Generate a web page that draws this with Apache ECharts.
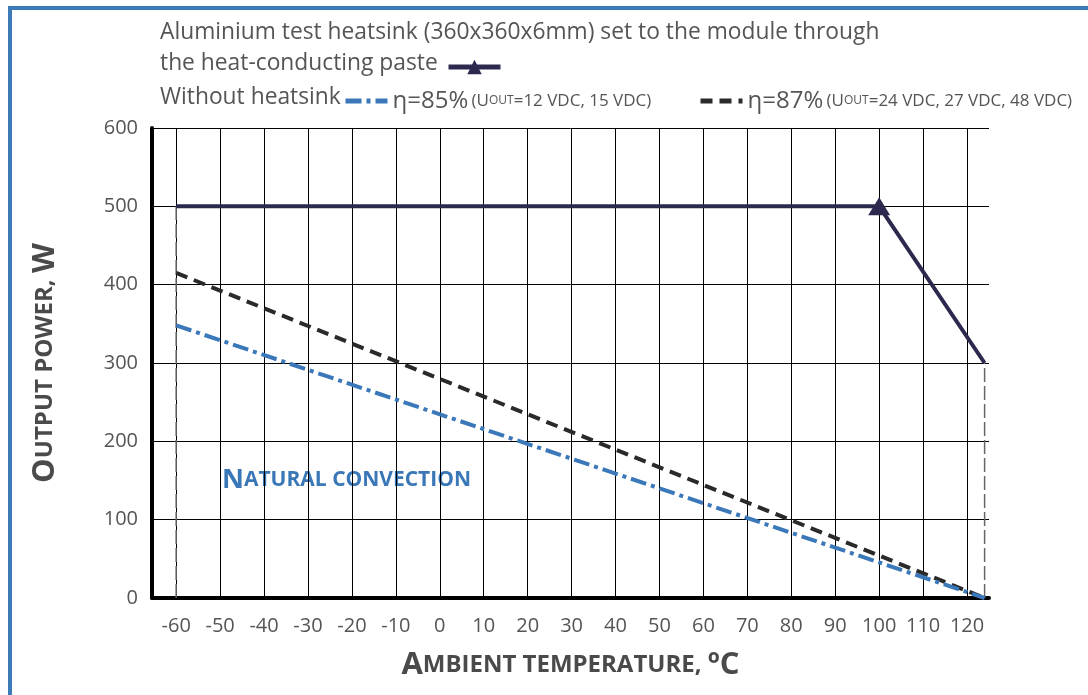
<!DOCTYPE html>
<html>
<head>
<meta charset="utf-8">
<script src="https://cdn.jsdelivr.net/npm/echarts@6/dist/echarts.min.js"></script>
<style>
html, body { margin: 0; padding: 0; background: #fff; }
#chart { width: 1088px; height: 695px; }
</style>
</head>
<body>
<div id="chart"></div>
<script>
// x ticks (ambient temperature, C)
var xTicks = [-60, -50, -40, -30, -20, -10, 0, 10, 20, 30, 40, 50, 60, 70, 80, 90, 100, 110, 120];
// heatsink curve
var heatTemp = [-60, 100, 124];
var heatPower = [500, 500, 300];
// without heatsink, eta = 85%
var eta85Temp = [-60, 124];
var eta85Power = [348, 0];
// without heatsink, eta = 87%
var eta87Temp = [-60, 124];
var eta87Power = [415, 0];
// thin dashed drop lines
var dropLeft = [[-60, 0], [-60, 500]];
var dropRight = [[124, 0], [124, 300]];

var gray = '#555';
var font = 'Open Sans';

var myChart = echarts.init(document.getElementById('chart'));

function pairs(xs, ys) {
    var out = [];
    for (var i = 0; i < xs.length; i++) {
        out.push([xs[i], ys[i]]);
    }
    return out;
}

var heatData = pairs(heatTemp, heatPower).map(function (p) {
    // triangle only where the derating starts
    return p[0] == 100 ? { value: p } : { value: p, symbol: 'none' };
});

var capsName = {
    b: { fontSize: 31, fontWeight: 'bold', color: '#4a4a4a', fontFamily: font },
    s: { fontSize: 24, fontWeight: 'bold', color: '#4a4a4a', fontFamily: font }
};
var legendRich = {
    a: { fontSize: 24, color: gray, fontFamily: font },
    s: { fontSize: 17, color: gray, fontFamily: font },
    x: { fontSize: 12, color: gray, fontFamily: font }
};

var option = {
    animation: false,
    grid: { left: 152, right: 99, top: 128, bottom: 97 },
    graphic: [
        {
            type: 'polyline',
            shape: { points: [[10, 695], [10, 8], [1088, 8]] },
            style: { stroke: '#3d7ab8', lineWidth: 4, fill: null }
        },
        {
            type: 'text', left: 160, top: 21,
            style: { text: 'Aluminium test heatsink (360x360x6mm) set to the module through', fill: gray, font: '22.8px "Open Sans"' }
        },
        {
            type: 'text', left: 160, top: 52,
            style: { text: 'the heat-conducting paste', fill: gray, font: '22.8px "Open Sans"' }
        },
        {
            type: 'text', left: 160, top: 86,
            style: { text: 'Without heatsink', fill: gray, font: '22.8px "Open Sans"' }
        },
        {
            type: 'text', left: 222, top: 467,
            style: {
                text: '{b|N}{s|ATURAL CONVECTION}',
                rich: {
                    b: { fontSize: 27, fontWeight: 'bold', fill: '#3a77b7', fontFamily: font },
                    s: { fontSize: 21, fontWeight: 'bold', fill: '#3a77b7', fontFamily: font }
                }
            }
        }
    ],
    legend: [
        {
            data: ['heatsink'], left: 446, top: 58, padding: 0, itemWidth: 52, itemHeight: 18,
            lineStyle: { width: 5 },
            formatter: function () { return ''; }
        },
        {
            data: ['η=85%'], left: 343, top: 89, padding: 0, itemWidth: 42, itemHeight: 12,
            itemStyle: { opacity: 0 },
            lineStyle: { width: 5 },
            formatter: function () { return '{a|η=85%} {s|(U}{x|OUT}{s|=12 VDC, 15 VDC)}'; },
            textStyle: { rich: legendRich }
        },
        {
            data: ['η=87%'], left: 698, top: 89, padding: 0, itemWidth: 42, itemHeight: 12,
            itemStyle: { opacity: 0 },
            lineStyle: { width: 5 },
            formatter: function () { return '{a|η=87%} {s|(U}{x|OUT}{s|=24 VDC, 27 VDC, 48 VDC)}'; },
            textStyle: { rich: legendRich }
        }
    ],
    xAxis: {
        type: 'value',
        min: -65.5,
        max: 125,
        name: '{b|A}{s|MBIENT TEMPERATURE, }{b|ºC}',
        nameLocation: 'middle',
        nameGap: 52,
        nameTextStyle: { rich: capsName },
        axisLine: { show: true, onZero: false, lineStyle: { color: '#000', width: 4 } },
        axisTick: { show: false, customValues: xTicks },
        axisLabel: { customValues: xTicks, color: gray, fontSize: 20, fontFamily: font, margin: 18 },
        splitLine: { show: true, lineStyle: { color: '#000', width: 1 } }
    },
    yAxis: {
        type: 'value',
        min: 0,
        max: 600,
        interval: 100,
        name: '{b|O}{s|UTPUT POWER, }{b|W}',
        nameLocation: 'middle',
        nameGap: 91,
        nameTextStyle: { rich: capsName },
        axisLine: { show: true, onZero: false, lineStyle: { color: '#000', width: 4 } },
        axisTick: { show: false },
        axisLabel: { color: gray, fontSize: 20, fontFamily: font, margin: 14 },
        splitLine: { show: true, lineStyle: { color: '#000', width: 1 } }
    },
    series: [
        {
            name: 'dropLeft', type: 'line', data: dropLeft, symbol: 'none', z: 1,
            lineStyle: { color: '#666', width: 1.5, type: [14, 4] }
        },
        {
            name: 'dropRight', type: 'line', data: dropRight, symbol: 'none', z: 1,
            lineStyle: { color: '#666', width: 1.5, type: [14, 4] }
        },
        {
            name: 'η=87%', type: 'line', data: pairs(eta87Temp, eta87Power), symbol: 'none',
            itemStyle: { color: '#2a2a2a' },
            lineStyle: { color: '#2a2a2a', width: 4, type: [12, 7] }
        },
        {
            name: 'η=85%', type: 'line', data: pairs(eta85Temp, eta85Power), symbol: 'none',
            itemStyle: { color: '#3a78b9' },
            lineStyle: { color: '#3a78b9', width: 4, type: [16, 5, 4, 5] }
        },
        {
            name: 'heatsink', type: 'line', data: heatData,
            symbol: 'triangle', symbolSize: [22, 18],
            itemStyle: { color: '#2b2a4e' },
            lineStyle: { color: '#2b2a4e', width: 4 }
        }
    ]
};

myChart.setOption(option);
</script>
</body>
</html>
